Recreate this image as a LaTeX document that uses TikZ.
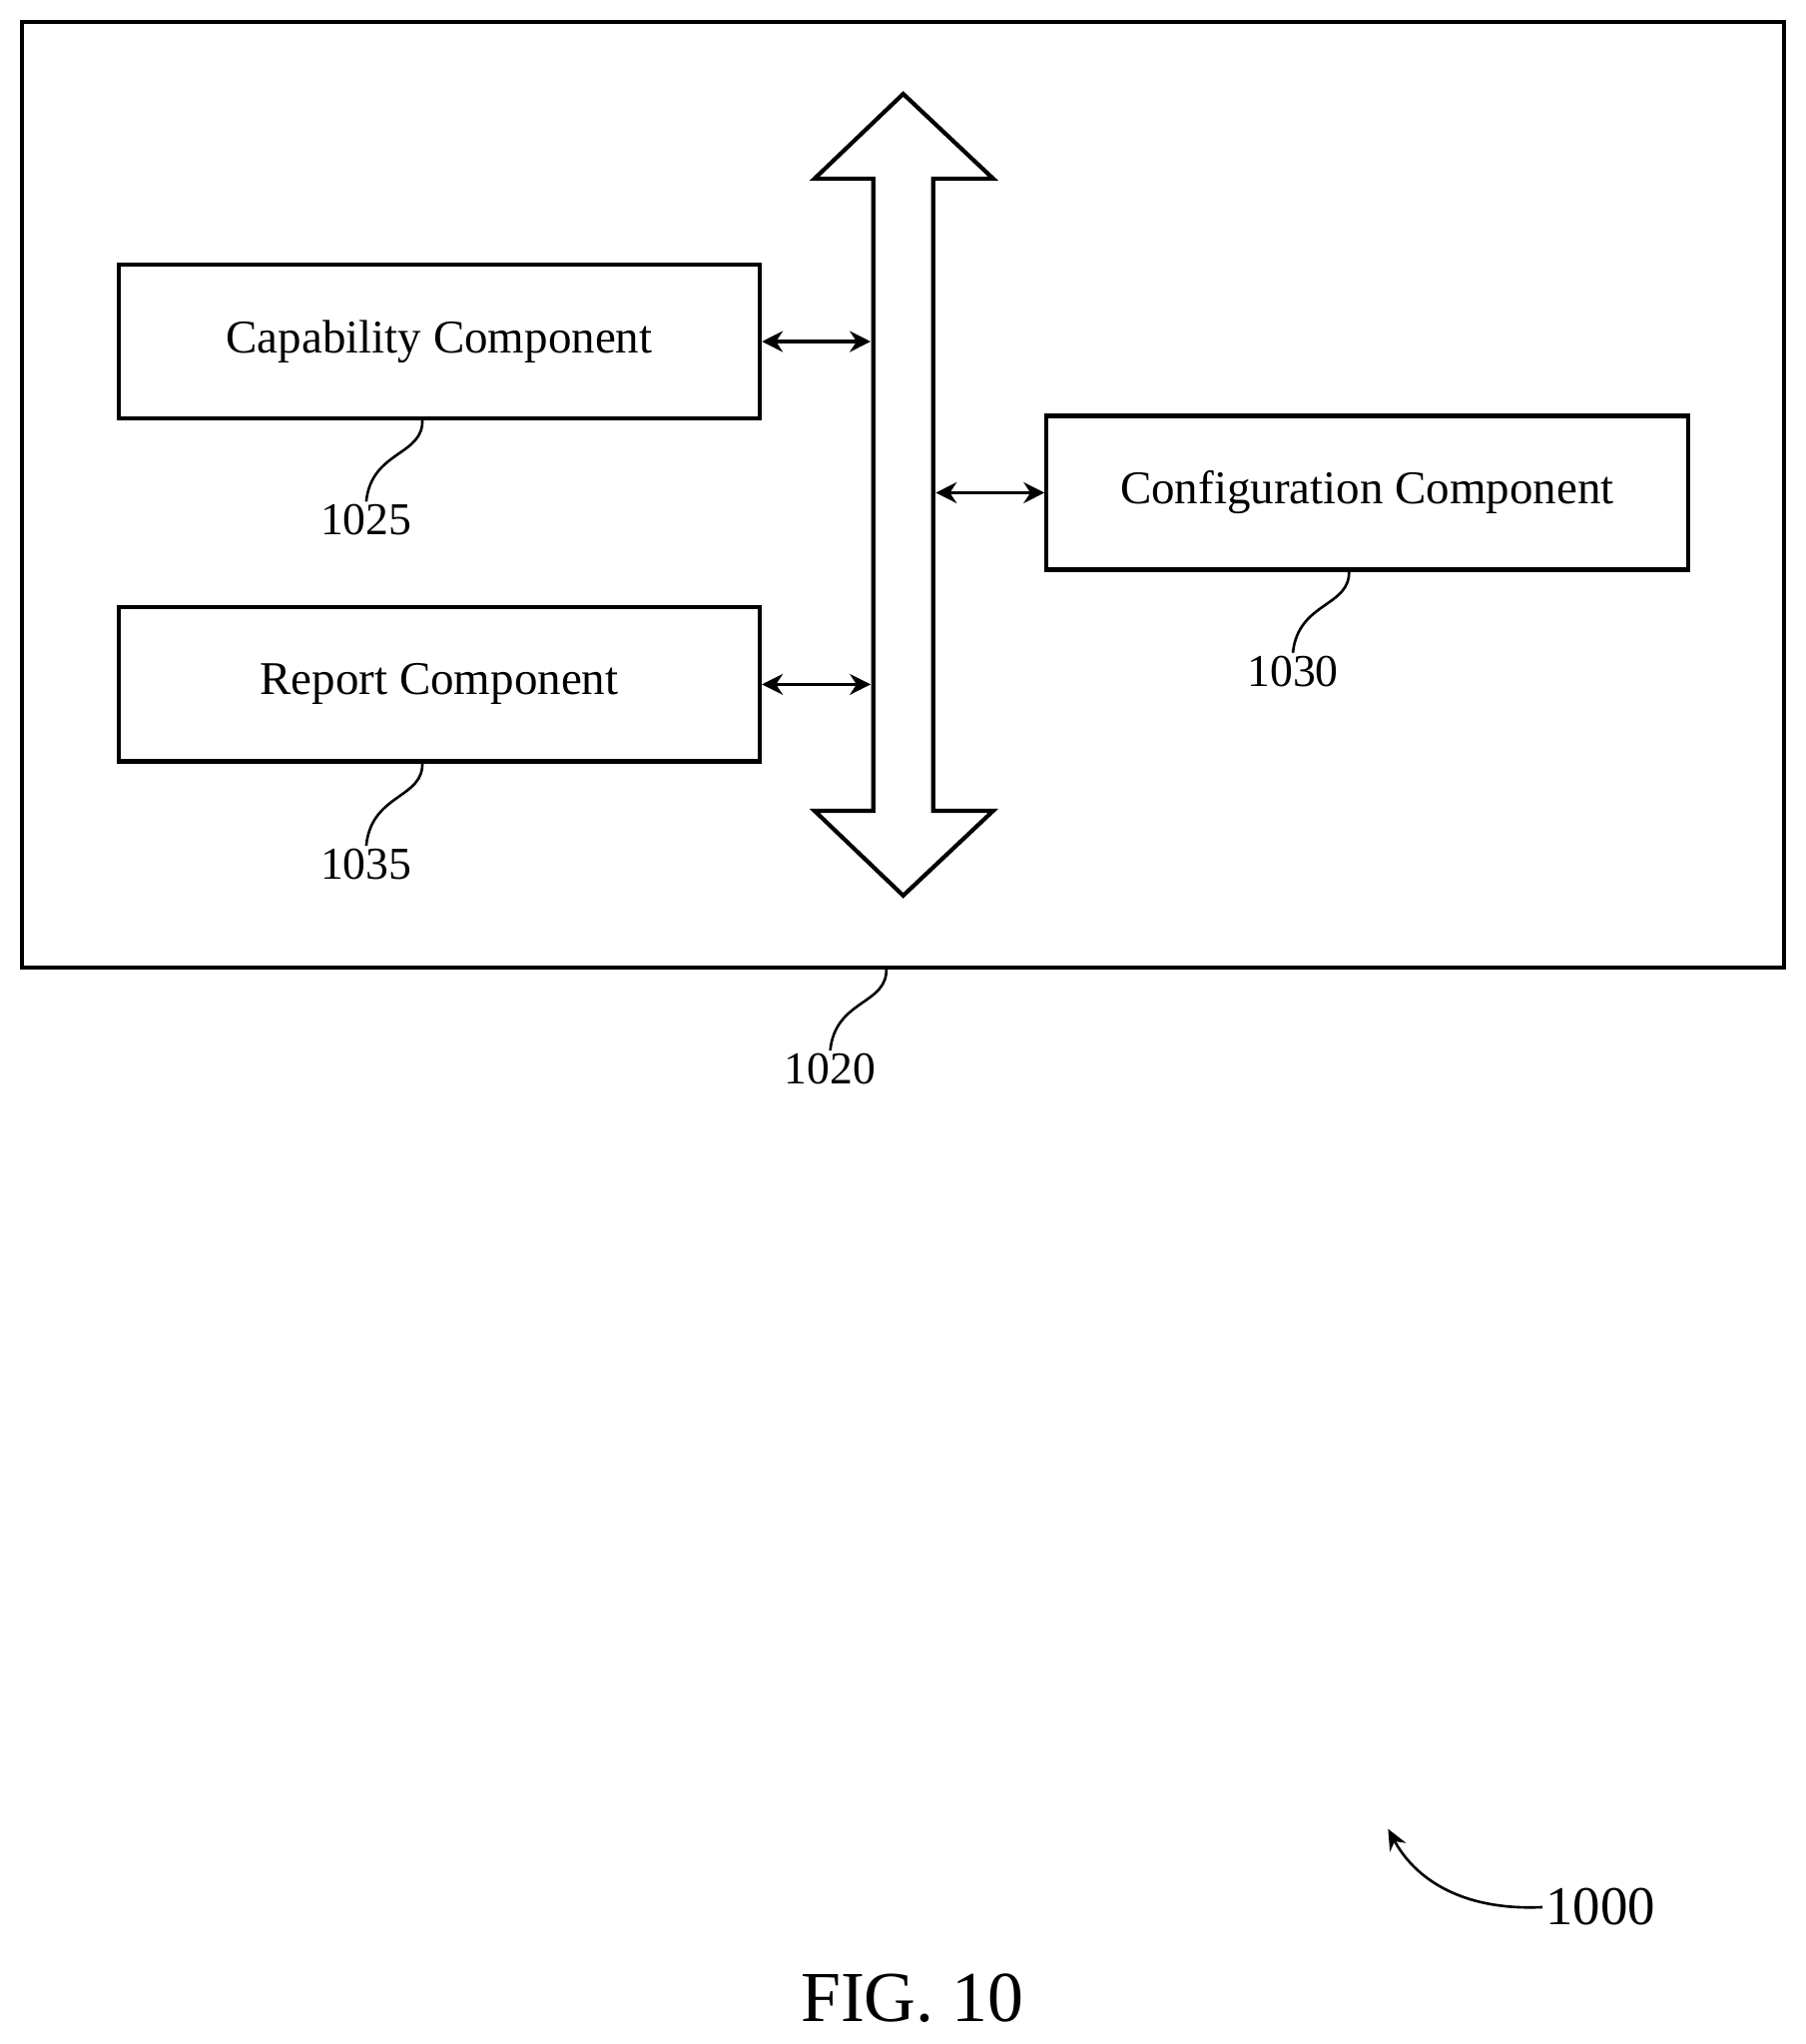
\documentclass[tikz,border=0pt]{standalone}
\usepackage{fontspec}
\setmainfont{Liberation Serif}
\usetikzlibrary{arrows.meta}
\begin{document}
\begin{tikzpicture}[x=0.5pt,y=-0.5pt,
  box/.style={draw,line width=1.6pt,minimum width=246pt,minimum height=59pt,inner sep=0pt,font=\fontsize{18}{21}\selectfont},
  lbl/.style={font=\fontsize{17.5}{20}\selectfont,inner sep=1pt},
  lead/.style={line width=1pt},
  dbl/.style={line width=1.3pt,{Stealth[length=8pt,width=8pt]}-{Stealth[length=8pt,width=8pt]}}]
\useasboundingbox (0,0) rectangle (1385,1568);
\node[draw,line width=1.6pt,minimum width=676pt,minimum height=362.5pt,inner sep=0pt] (outer) at (693,379.5) {};
\node[box] (cap) at (337,262) {Capability Component};
\node[box] (rep) at (337,525) {Report Component};
\node[box] (conf) at (1049,378) {Configuration Component};
\draw[line width=1.6pt,line join=miter] (693,72) -- (762,137) -- (716,137) -- (716,622) -- (762,622) -- (693,687) -- (625,622) -- (670,622) -- (670,137) -- (625,137) -- cycle;
\coordinate (b1) at (668,262); \coordinate (b2) at (668,525); \coordinate (b3) at (718,378);
\draw[dbl] (cap.east) -- (b1);
\draw[dbl] (rep.east) -- (b2);
\draw[dbl] (b3) -- (conf.west);
\node[lbl] (n1025) at (281,399) {1025};
\node[lbl] (n1035) at (281,663) {1035};
\node[lbl] (n1030) at (992,515) {1030};
\node[lbl] (n1020) at (637,820) {1020};
\draw[lead] (324,321) .. controls (326,350) and (285,345) .. (n1025.north);
\draw[lead] (324,584) .. controls (326,613) and (285,608) .. (n1035.north);
\draw[lead] (1035,437) .. controls (1037,466) and (996,461) .. (n1030.north);
\draw[lead] (680,742) .. controls (682,771) and (641,766) .. (n1020.north);
\node[lbl,font=\fontsize{21}{24}\selectfont] (n1000) at (1228,1463) {1000};
\draw[lead,-{Stealth[length=8pt,width=7pt]}] (n1000.west) .. controls (1120,1466) and (1085,1440) .. (1065,1403);
\node[font=\fontsize{27.5}{32}\selectfont] (fig) at (700,1533) {FIG. 10};
\end{tikzpicture}
\end{document}
